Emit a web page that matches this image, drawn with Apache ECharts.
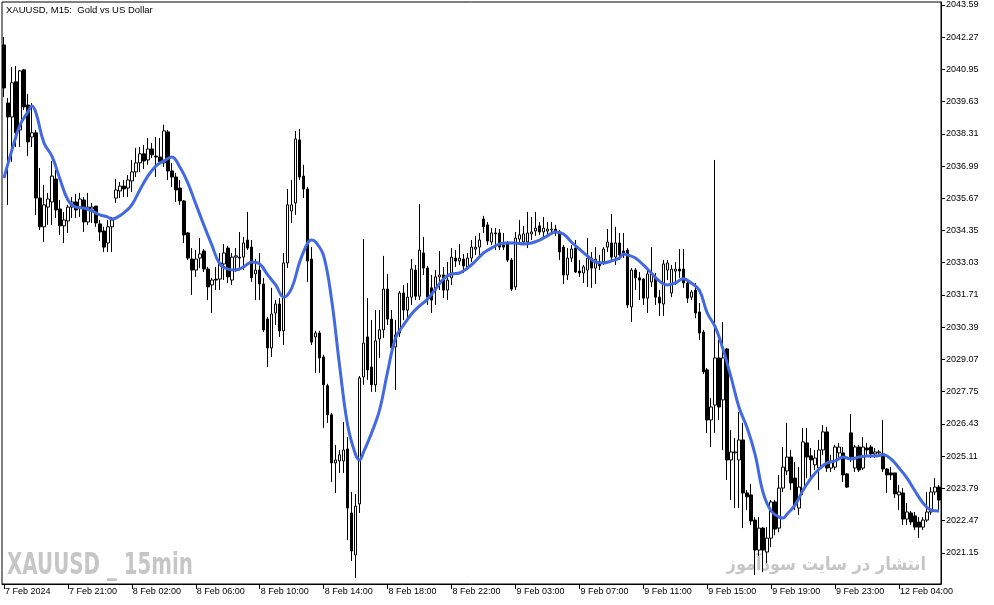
<!DOCTYPE html>
<html>
<head>
<meta charset="utf-8">
<script src="https://cdn.jsdelivr.net/npm/echarts@6/dist/echarts.min.js"></script>
<style>
html,body{margin:0;padding:0;background:#fff;}
#chart{width:994px;height:605px;}
</style>
</head>
<body>
<div id="chart"></div>
<script>
// ---- data (XAUUSD M15) ----
const tickLabels = ["7 Feb 2024","7 Feb 21:00","8 Feb 02:00","8 Feb 06:00","8 Feb 10:00","8 Feb 14:00","8 Feb 18:00","8 Feb 22:00","9 Feb 03:00","9 Feb 07:00","9 Feb 11:00","9 Feb 15:00","9 Feb 19:00","9 Feb 23:00","12 Feb 04:00"];
const barsPerLabel = 16;
const yTicks = [2021.15,2022.47,2023.79,2025.11,2026.43,2027.75,2029.07,2030.39,2031.71,2033.03,2034.35,2035.67,2036.99,2038.31,2039.63,2040.95,2042.27,2043.59];

const open = [2041.95,2039.57,2039.00,2040.44,2038.47,2040.93,2039.49,2038.18,2038.35,2035.68,
2034.50,2035.31,2035.52,2036.46,2035.23,2034.54,2034.74,2035.31,2035.52,2035.31,
2035.60,2034.70,2035.23,2035.35,2034.62,2034.33,2033.84,2034.50,2035.68,2035.97,
2036.17,2036.09,2036.38,2036.75,2037.12,2037.49,2037.24,2037.69,2037.40,2037.36,
2037.12,2038.39,2036.79,2036.54,2036.09,2035.56,2034.25,2033.18,2032.73,2033.22,
2033.51,2032.77,2032.12,2032.36,2032.36,2032.98,2033.63,2032.32,2033.26,2033.26,
2033.26,2033.96,2033.67,2032.57,2032.73,2032.16,2030.72,2029.54,2030.97,2031.34,
2030.24,2033.02,2035.15,2035.48,2038.06,2036.58,2036.05,2033.18,2029.99,2030.15,
2029.17,2027.99,2026.80,2024.83,2024.91,2024.91,2025.40,2022.78,2021.06,2023.15,
2028.35,2029.99,2028.76,2028.03,2029.91,2030.28,2031.95,2030.72,2029.58,2030.15,
2031.79,2031.09,2031.62,2032.73,2031.66,2033.43,2032.81,2032.00,2031.91,2032.45,
2032.53,2031.91,2032.41,2033.22,2033.10,2033.18,2032.86,2033.22,2033.59,2033.67,
2034.82,2034.58,2033.88,2034.25,2034.25,2033.76,2033.84,2033.14,2032.04,2034.00,
2033.88,2033.88,2034.21,2034.33,2034.54,2034.29,2034.33,2034.37,2034.41,2034.21,
2033.67,2032.53,2033.22,2033.63,2032.69,2032.61,2032.73,2033.22,2032.81,2033.06,
2033.06,2033.67,2033.84,2033.26,2033.84,2033.51,2033.55,2031.22,2032.73,2032.41,
2032.36,2031.58,2032.24,2032.41,2031.62,2031.34,2032.73,2031.79,2032.69,2032.77,
2032.77,2032.20,2031.62,2031.91,2031.01,2030.19,2028.64,2026.59,2027.20,2029.13,
2027.41,2029.50,2024.95,2025.24,2024.95,2025.77,2023.60,2023.52,2022.49,2021.26,
2022.16,2021.18,2021.75,2023.23,2022.16,2023.80,2024.50,2025.07,2024.21,2022.98,
2023.72,2025.65,2025.12,2024.75,2024.62,2025.36,2026.10,2024.62,2024.66,2025.24,
2025.24,2024.38,2026.06,2024.62,2025.48,2024.62,2025.44,2025.48,2025.20,2025.24,
2025.20,2024.58,2024.42,2024.42,2023.52,2023.60,2022.53,2022.78,2022.66,2022.41,
2022.20,2022.49,2022.82,2023.64,2023.84];

const close = [2040.19,2039.00,2040.40,2038.35,2040.89,2039.41,2037.98,2038.35,2035.68,2034.50,
2035.40,2035.64,2036.58,2035.19,2034.54,2034.78,2035.31,2035.52,2035.19,2035.64,
2034.70,2035.31,2035.31,2034.66,2034.29,2033.67,2034.50,2034.78,2036.01,2036.17,
2036.05,2036.42,2036.75,2037.12,2037.49,2037.20,2037.69,2037.45,2037.36,2037.16,
2038.43,2036.79,2036.54,2036.01,2035.56,2034.17,2033.22,2032.73,2033.18,2033.39,
2032.77,2032.04,2032.32,2032.32,2033.02,2033.43,2032.45,2033.26,2033.31,2033.22,
2033.84,2033.63,2032.41,2032.73,2032.16,2030.28,2029.54,2030.93,2031.34,2030.24,
2033.02,2035.40,2035.40,2038.10,2036.54,2036.05,2033.10,2029.78,2030.15,2029.13,
2028.03,2026.80,2024.83,2024.95,2025.16,2025.36,2022.98,2021.22,2023.06,2028.31,
2029.74,2028.64,2028.03,2029.83,2030.28,2031.95,2030.72,2029.54,2030.07,2031.79,
2031.09,2031.62,2032.77,2031.66,2033.55,2032.81,2031.62,2031.50,2032.45,2032.53,
2031.91,2032.32,2033.26,2033.10,2033.22,2032.90,2033.22,2033.67,2033.67,2033.96,
2034.50,2033.92,2034.25,2034.21,2033.67,2033.67,2033.14,2031.95,2034.04,2034.17,
2034.21,2034.25,2034.29,2034.45,2034.29,2034.45,2034.41,2034.41,2034.33,2033.47,
2032.53,2033.22,2033.59,2032.65,2032.61,2032.86,2033.22,2032.81,2033.18,2032.90,
2033.59,2033.88,2033.26,2033.84,2033.35,2033.43,2031.30,2032.73,2032.41,2032.32,
2031.58,2032.57,2032.61,2031.62,2031.38,2032.98,2033.02,2032.77,2032.77,2032.69,
2032.20,2031.58,2031.83,2030.97,2030.15,2028.56,2026.59,2027.12,2029.13,2027.12,
2029.13,2024.95,2025.28,2025.28,2025.77,2023.60,2023.44,2022.45,2021.26,2022.16,
2021.26,2021.75,2023.23,2022.12,2023.80,2024.66,2025.07,2024.01,2023.11,2023.84,
2025.69,2025.07,2024.95,2025.03,2025.36,2026.10,2024.62,2024.87,2025.48,2025.48,
2024.34,2023.84,2025.07,2025.48,2024.54,2025.48,2025.36,2025.20,2025.28,2025.28,
2024.58,2024.34,2024.34,2023.56,2023.64,2022.53,2022.82,2022.41,2022.20,2022.20,
2022.49,2022.82,2023.64,2023.84,2023.31];

const low = [2039.82,2035.40,2037.16,2037.77,2037.77,2039.29,2037.40,2037.77,2034.99,2034.37,
2033.88,2034.58,2034.58,2034.86,2034.17,2033.84,2034.25,2034.86,2034.86,2034.90,
2034.29,2034.58,2034.66,2034.50,2033.92,2033.47,2033.47,2033.47,2035.48,2035.68,
2035.72,2035.72,2035.93,2036.54,2036.75,2036.87,2037.04,2037.32,2036.54,2037.04,
2036.95,2036.42,2036.13,2035.52,2035.40,2033.84,2033.14,2031.71,2032.45,2032.81,
2032.65,2031.50,2030.97,2031.91,2031.91,2032.32,2032.20,2032.12,2032.65,2032.81,
2032.73,2033.55,2032.24,2031.50,2031.50,2030.19,2028.76,2029.17,2030.48,2029.99,
2029.66,2032.81,2034.66,2034.99,2036.42,2035.68,2032.24,2029.66,2028.52,2028.52,
2026.26,2026.47,2024.05,2023.60,2024.42,2024.42,2021.67,2020.81,2020.11,2022.78,
2028.03,2028.23,2027.74,2027.74,2029.13,2029.95,2030.48,2029.46,2027.82,2029.99,
2030.68,2030.68,2031.30,2031.50,2031.50,2032.53,2031.30,2030.97,2031.30,2031.91,
2031.58,2031.50,2032.12,2032.86,2032.94,2032.61,2032.73,2033.06,2033.35,2033.26,
2034.25,2033.76,2033.76,2033.55,2033.55,2033.55,2033.06,2031.87,2031.91,2033.76,
2033.76,2033.63,2033.96,2034.13,2034.17,2034.09,2034.13,2034.25,2034.13,2033.14,
2032.16,2032.32,2033.06,2032.61,2032.45,2032.20,2032.04,2032.00,2032.16,2032.73,
2032.94,2033.47,2033.06,2032.94,2033.14,2033.22,2031.18,2030.60,2031.91,2031.50,
2031.30,2030.97,2032.04,2031.30,2030.85,2030.85,2032.32,2031.62,2032.12,2032.41,
2032.00,2031.38,2031.50,2030.76,2029.87,2028.48,2026.06,2025.48,2026.06,2026.59,
2025.36,2024.13,2023.31,2022.98,2022.98,2022.16,2022.90,2022.29,2020.24,2021.01,
2020.36,2020.73,2021.38,2021.87,2021.99,2023.64,2024.34,2023.72,2022.90,2022.70,
2023.52,2024.21,2024.21,2024.54,2023.72,2025.16,2024.46,2024.46,2024.54,2025.03,
2024.05,2023.80,2024.87,2024.46,2024.46,2024.54,2025.16,2025.03,2025.03,2025.12,
2024.46,2023.60,2024.13,2023.39,2022.90,2022.29,2022.29,2022.29,2022.08,2021.75,
2022.08,2022.41,2022.70,2023.52,2022.90];

const high = [2042.28,2039.78,2041.05,2041.09,2040.93,2040.97,2039.94,2039.57,2038.47,2036.91,
2036.22,2035.89,2037.20,2036.83,2035.60,2035.11,2035.40,2035.72,2035.85,2035.89,
2035.72,2035.89,2035.48,2035.35,2034.78,2034.50,2034.78,2034.90,2036.46,2036.34,
2036.42,2036.62,2037.24,2037.73,2037.77,2037.85,2038.14,2037.94,2038.18,2038.14,
2038.68,2038.47,2037.12,2036.71,2036.42,2035.60,2034.29,2033.63,2033.55,2034.04,
2033.59,2032.86,2032.41,2032.86,2033.43,2033.80,2033.72,2033.43,2033.63,2034.29,
2034.09,2035.11,2033.96,2033.18,2033.43,2032.41,2030.81,2032.00,2031.50,2031.58,
2033.43,2036.05,2036.42,2038.43,2038.51,2037.04,2036.13,2033.67,2030.24,2030.24,
2029.26,2028.07,2026.88,2025.57,2025.36,2026.51,2025.89,2023.64,2023.56,2028.39,
2034.00,2031.58,2030.68,2031.09,2031.09,2033.31,2032.57,2031.09,2030.68,2031.87,
2032.12,2032.20,2033.18,2032.94,2035.44,2034.09,2032.90,2032.53,2032.73,2033.51,
2032.86,2033.06,2033.63,2033.55,2033.80,2033.39,2033.43,2033.96,2034.13,2034.25,
2034.95,2034.70,2034.45,2034.45,2034.41,2034.25,2033.92,2033.22,2034.29,2034.78,
2034.54,2035.11,2034.90,2035.11,2034.70,2034.90,2034.70,2034.70,2034.58,2034.37,
2033.76,2033.63,2033.76,2033.96,2033.14,2032.94,2034.04,2033.47,2033.67,2033.35,
2033.67,2034.41,2035.03,2034.50,2034.25,2034.25,2033.63,2032.81,2032.81,2032.65,
2032.41,2032.73,2033.67,2032.61,2031.91,2033.14,2033.14,2032.94,2033.06,2033.59,
2033.59,2032.28,2031.91,2032.20,2031.38,2030.28,2028.72,2027.49,2037.24,2029.87,
2030.60,2029.54,2026.18,2025.85,2026.92,2026.47,2023.72,2023.97,2022.61,2022.61,
2022.20,2022.20,2023.31,2023.31,2024.34,2025.48,2026.47,2025.36,2024.87,2024.66,
2026.26,2026.26,2025.44,2025.36,2025.77,2026.38,2026.30,2025.16,2025.57,2025.65,
2025.48,2024.42,2026.83,2025.57,2025.57,2025.89,2025.65,2025.57,2025.44,2025.36,
2026.59,2024.62,2024.66,2024.42,2023.93,2023.80,2023.19,2022.86,2022.82,2022.61,
2022.61,2023.64,2023.84,2024.21,2023.93];

// moving-average line, read at bar indices
const maIndex = [0,2,4,6,7,8,10,12,14,16,18,20,22,24,26,27,28,30,32,34,36,38,40,42,44,46,48,50,52,54,56,58,60,62,64,66,68,70,72,74,76,77,78,80,82,84,86,88,89,90,92,94,96,98,100,102,104,106,108,110,112,114,116,118,120,122,124,126,128,130,132,134,136,138,140,142,144,146,148,150,152,154,155,156,158,160,162,164,166,168,170,172,174,176,178,180,182,184,186,188,190,192,194,195,196,198,200,202,204,206,208,210,212,214,216,218,220,222,224,226,228,230,232,234];
const maValue = [2036.50,2037.65,2038.67,2039.21,2039.45,2039.17,2037.94,2037.40,2036.46,2035.60,2035.31,2035.27,2035.15,2034.99,2034.90,2034.82,2034.86,2035.07,2035.40,2036.01,2036.58,2036.99,2037.20,2037.36,2036.95,2036.30,2035.44,2034.58,2033.76,2032.98,2032.77,2032.73,2032.86,2033.06,2032.98,2032.53,2032.12,2031.62,2031.99,2033.06,2033.84,2033.96,2033.88,2033.31,2031.50,2028.80,2026.38,2025.16,2024.95,2025.28,2026.06,2027.00,2028.56,2029.95,2030.48,2030.93,2031.26,2031.54,2031.95,2032.37,2032.57,2032.61,2032.81,2033.10,2033.43,2033.63,2033.80,2033.84,2033.84,2033.80,2033.84,2033.96,2034.13,2034.29,2034.21,2033.88,2033.59,2033.31,2033.06,2033.02,2033.10,2033.22,2033.39,2033.35,2033.22,2032.94,2032.61,2032.28,2032.12,2032.20,2032.37,2032.20,2031.91,2030.97,2030.40,2029.46,2028.31,2027.08,2026.26,2025.16,2023.60,2022.86,2022.61,2022.57,2022.74,2023.11,2023.72,2024.21,2024.58,2024.83,2024.91,2025.07,2024.99,2025.07,2025.11,2025.11,2025.16,2024.99,2024.62,2024.21,2023.68,2023.19,2022.90,2022.86];

// ---- build chart ----
const categories = open.map((_, i) => String(i));
const candleData = open.map((o, i) => [o, close[i], low[i], high[i]]);
const maData = maIndex.map((ix, k) => [ix, maValue[k]]);

const chart = echarts.init(document.getElementById('chart'), null, {renderer: 'canvas'});
const axisFont = 'Liberation Sans';
chart.setOption({
  animation: false,
  backgroundColor: '#ffffff',
  grid: {left: 2, top: 2, right: 53, bottom: 21, show: true, borderColor: '#000', borderWidth: 1, backgroundColor: '#fff'},
  xAxis: {
    type: 'category',
    data: categories,
    boundaryGap: true,
    axisLine: {show: true, lineStyle: {color: '#000', width: 1}},
    axisTick: {show: true, alignWithLabel: true, length: 5, lineStyle: {color: '#000'},
      interval: (idx) => idx % barsPerLabel === 0},
    axisLabel: {
      interval: (idx) => idx % barsPerLabel === 0,
      formatter: (v, idx) => tickLabels[Math.round(idx / barsPerLabel)] || '',
      align: 'left', margin: 3, color: '#000', fontFamily: axisFont, fontSize: 9, padding: [0,0,0,1]
    },
    splitLine: {show: false}
  },
  yAxis: {
    type: 'value',
    position: 'right',
    min: 2019.87,
    max: 2043.71,
    scale: true,
    axisLine: {show: true, lineStyle: {color: '#000', width: 1}},
    axisTick: {show: true, length: 4, lineStyle: {color: '#000'}, customValues: yTicks},
    axisLabel: {customValues: yTicks, formatter: (v) => Number(v).toFixed(2), margin: 5,
      color: '#000', fontFamily: axisFont, fontSize: 9},
    splitLine: {show: false}
  },
  graphic: [
    {type: 'text', x: 6, y: 10, z: 10, style: {text: 'XAUUSD, M15:  Gold vs US Dollar', fill: '#000',
      font: '9.5px "Liberation Sans"', align: 'left', verticalAlign: 'middle'}},
    {type: 'text', x: 7, y: 566, scaleX: 0.64, z: 0, style: {text: 'XAUUSD _ 15min', fill: '#c6c6c6',
      font: 'bold 31px "DejaVu Sans"', align: 'left', verticalAlign: 'middle'}},
    {type: 'text', x: 926, y: 565, scaleX: 0.9, z: 0, style: {text: 'انتشار در سایت سودآموز', fill: '#c6c6c6',
      font: 'bold 18px "DejaVu Sans"', align: 'right', verticalAlign: 'middle'}}
  ],
  series: [
    {
      type: 'candlestick',
      data: candleData,
      barWidth: 3,
      z: 3,
      itemStyle: {color: '#ffffff', color0: '#000000', borderColor: '#000000', borderColor0: '#000000', borderWidth: 1}
    },
    {
      type: 'line',
      data: maData,
      z: 4,
      smooth: 0.4,
      showSymbol: false,
      lineStyle: {color: '#4169e1', width: 3}
    }
  ]
});
</script>
</body>
</html>
